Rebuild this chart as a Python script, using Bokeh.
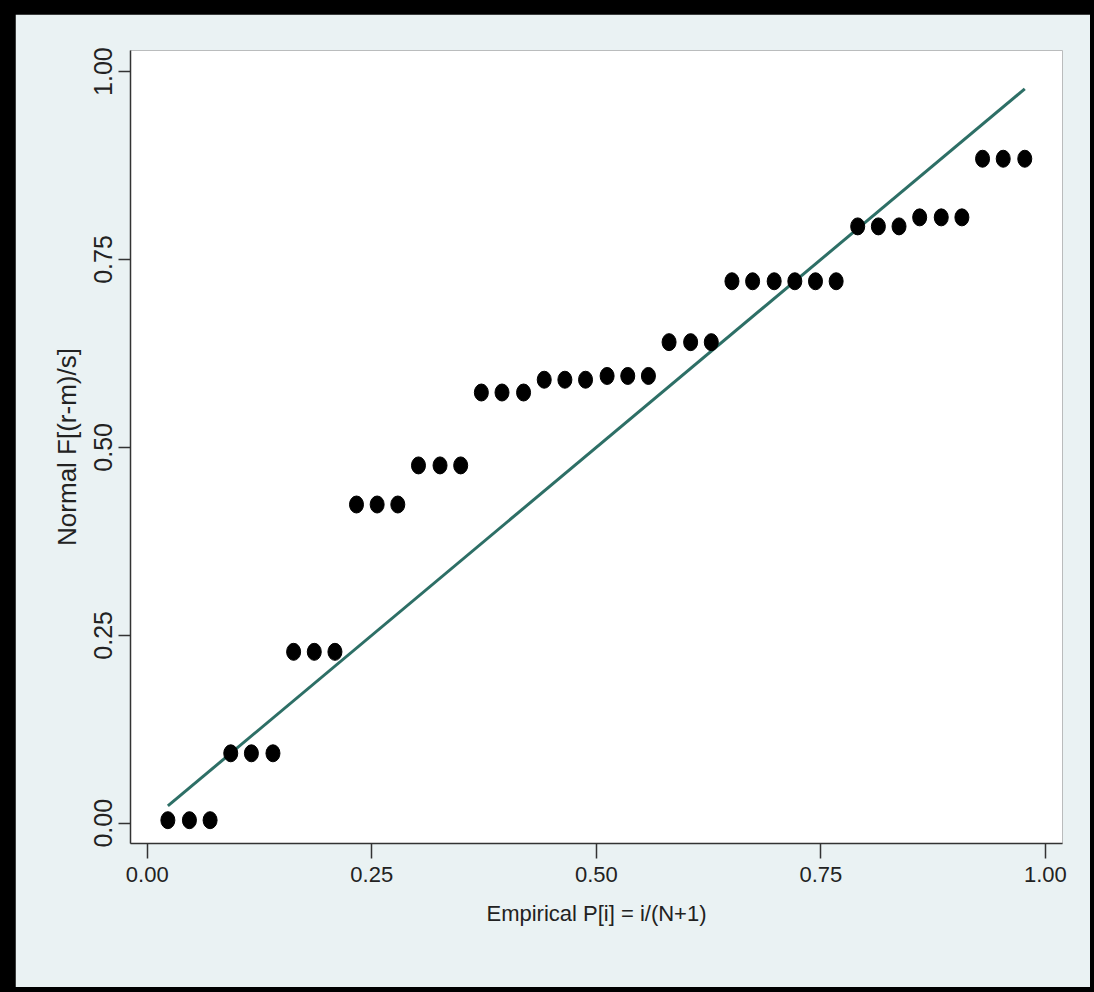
from bokeh.plotting import figure
from bokeh.layouts import column
from bokeh.models import Range1d, FixedTicker, ColumnDataSource
from bokeh.embed import file_html
from bokeh.resources import INLINE

# ---- data ----
emp_p = [0.023, 0.047, 0.070, 0.093, 0.116, 0.140, 0.163, 0.186, 0.209,
         0.233, 0.256, 0.279, 0.302, 0.326, 0.349, 0.372, 0.395, 0.419,
         0.442, 0.465, 0.488, 0.512, 0.535, 0.558, 0.581, 0.605, 0.628,
         0.651, 0.674, 0.698, 0.721, 0.744, 0.767, 0.791, 0.814, 0.837,
         0.860, 0.884, 0.907, 0.930, 0.953, 0.977]
normal_f = [0.004, 0.004, 0.004, 0.093, 0.093, 0.093, 0.228, 0.228, 0.228,
            0.424, 0.424, 0.424, 0.476, 0.476, 0.476, 0.573, 0.573, 0.573,
            0.590, 0.590, 0.590, 0.595, 0.595, 0.595, 0.640, 0.640, 0.640,
            0.721, 0.721, 0.721, 0.721, 0.721, 0.721, 0.794, 0.794, 0.794,
            0.806, 0.806, 0.806, 0.884, 0.884, 0.884]
ref_x = [0.023, 0.977]
ref_y = [0.023, 0.977]
tick_vals = [0.0, 0.25, 0.5, 0.75, 1.0]
tick_labels = ["0.00", "0.25", "0.50", "0.75", "1.00"]

BG = "#EAF2F3"
FONT = "Liberation Sans"
TXT = "#222222"

p = figure(width=1075, height=973,
           x_range=Range1d(-0.0186, 1.019), y_range=Range1d(-0.027, 1.028),
           output_backend="svg", toolbar_location=None,
           min_border_left=115, min_border_right=28,
           min_border_top=36, min_border_bottom=144)
p.border_fill_color = BG
p.background_fill_color = "white"
p.outline_line_color = None
p.grid.visible = False

src = ColumnDataSource(dict(x=emp_p, y=normal_f))
p.line(ref_x, ref_y, line_color="#2D6F66", line_width=3)
p.ellipse(x="x", y="y", width=14, height=17, width_units="screen",
          height_units="screen", fill_color="black", line_color="black",
          source=src)

for ax in (p.xaxis[0], p.yaxis[0]):
    ax.ticker = FixedTicker(ticks=tick_vals)
    ax.major_label_overrides = dict(zip(tick_vals, tick_labels))
    ax.minor_tick_line_color = None
    ax.major_tick_in = 0
    ax.axis_line_color = "#333333"
    ax.axis_line_width = 1.5
    ax.major_tick_line_color = "#333333"
    ax.major_tick_line_width = 1.5
    ax.major_label_text_font = FONT
    ax.major_label_text_color = TXT
    ax.axis_label_text_font = FONT
    ax.axis_label_text_color = TXT
    ax.axis_label_text_font_style = "normal"

xa = p.xaxis[0]
xa.major_tick_out = 15
xa.major_label_text_font_size = "22px"
xa.major_label_standoff = 8
xa.axis_label = "Empirical P[i] = i/(N+1)"
xa.axis_label_text_font_size = "22px"
xa.axis_label_standoff = 16

ya = p.yaxis[0]
ya.major_tick_out = 12
ya.major_label_orientation = "vertical"
ya.major_label_text_font_size = "25px"
ya.major_label_standoff = 6
ya.axis_label = "Normal F[(r-m)/s]"
ya.axis_label_text_font_size = "26px"
ya.axis_label_standoff = 10

p.margin = (14, 4, 5, 15)
layout = column(p, styles={"background-color": "black"})

open("out.html", "w").write(file_html(layout, INLINE))
